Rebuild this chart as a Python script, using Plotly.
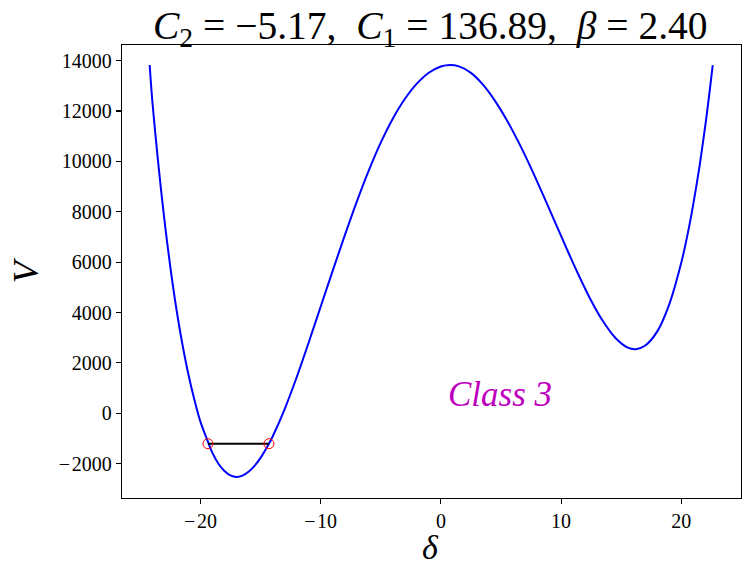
import plotly.graph_objects as go

# Potential curve V(delta)
delta = [-24.22, -24.0, -23.5, -23.0, -22.5, -22.0, -21.5, -21.0, -20.5, -20.0,
         -19.3, -19.0, -18.5, -18.0, -17.5, -17.0, -16.5, -16.0, -15.5, -15.0,
         -14.3, -14.0, -13.0, -12.0, -11.0, -10.0, -9.0, -8.0, -7.0, -6.0,
         -5.0, -4.0, -3.0, -2.0, -1.0, 0.0, 0.77, 1.5, 2.5, 3.5,
         4.5, 5.5, 6.5, 7.5, 8.5, 9.5, 10.5, 11.5, 12.5, 13.5,
         14.5, 15.5, 16.2, 17.0, 18.0, 19.0, 20.0, 20.5, 21.0, 21.5,
         22.0, 22.3, 22.61]
V = [13820, 12400, 9900, 7700, 5800, 4150, 2750, 1550, 540, -330,
     -1220, -1570, -2000, -2290, -2465, -2525, -2475, -2320, -2085, -1770,
     -1210, -930, 160, 1420, 2800, 4230, 5650, 7050, 8390, 9630,
     10740, 11690, 12470, 13080, 13515, 13762, 13821, 13765, 13510, 13040,
     12400, 11620, 10720, 9730, 8670, 7580, 6490, 5440, 4470, 3640,
     3000, 2620, 2545, 2690, 3250, 4330, 5990, 7060, 8320, 9770,
     11450, 12580, 13821]

# Energy level segment with turning points
turn_x = [-19.37, -14.30]
turn_E = [-1206, -1206]

x_ticks = [-20, -10, 0, 10, 20]
y_ticks = [-2000, 0, 2000, 4000, 6000, 8000, 10000, 12000, 14000]

def lab(v):
    return ("\u2212\u200a" + str(abs(v))) if v < 0 else str(v)

FONT = "Liberation Serif"

fig = go.Figure()
fig.add_trace(go.Scatter(x=delta, y=V, mode="lines",
                         line=dict(color="#0000ff", width=2, shape="spline", smoothing=0.8),
                         showlegend=False, hoverinfo="skip"))
fig.add_trace(go.Scatter(x=turn_x, y=turn_E, mode="lines",
                         line=dict(color="black", width=2),
                         showlegend=False, hoverinfo="skip"))
fig.add_trace(go.Scatter(x=turn_x, y=turn_E, mode="markers",
                         marker=dict(symbol="circle-open", size=10, color="red",
                                     line=dict(color="red", width=1)),
                         showlegend=False, hoverinfo="skip"))

axis_common = dict(showline=True, mirror=True, linecolor="black", linewidth=1.3,
                   ticks="outside", ticklen=5, tickwidth=1.2, tickcolor="black",
                   showgrid=False, zeroline=False, automargin=False,
                   tickfont=dict(size=20, family=FONT, color="black"))

fig.update_layout(
    width=751, height=577,
    margin=dict(l=122, r=10, t=45, b=79, autoexpand=False),
    paper_bgcolor="white", plot_bgcolor="white",
    font=dict(family=FONT, color="black", size=19),
    xaxis=dict(range=[-26.52, 24.96], tickvals=x_ticks, ticktext=[lab(v) for v in x_ticks],
               **axis_common),
    yaxis=dict(range=[-3361, 14615], tickvals=y_ticks, ticktext=[lab(v) for v in y_ticks],
               **axis_common),
    annotations=[
        dict(text="<i>C</i><sub>2</sub>\u00a0=\u00a0\u22125.17,\u00a0\u00a0<i>C</i><sub>1</sub>\u00a0=\u00a0136.89,\u00a0\u00a0<i>\u03b2</i>\u00a0=\u00a02.40",
             xref="paper", yref="paper", x=(430 - 121.7) / 619.3, y=(498 - 28) / 453,
             xanchor="center", yanchor="middle",
             showarrow=False, font=dict(size=39.5, family=FONT)),
        dict(text="<i>\u03b4</i>", xref="paper", yref="paper", x=(430 - 121.7) / 619.3,
             y=(498 - 547) / 453, xanchor="center", yanchor="middle",
             showarrow=False, font=dict(size=34, family=FONT)),
        dict(text="<i>V</i>", xref="paper", yref="paper", x=(26 - 121.7) / 619.3,
             y=(498 - 270) / 453, xanchor="center", yanchor="middle", textangle=-90,
             showarrow=False, font=dict(size=36, family=FONT)),
        dict(text="<i>Class 3</i>", xref="x", yref="y", x=0.45, y=760,
             xanchor="left", yanchor="middle", showarrow=False,
             font=dict(size=35, family=FONT, color="#bf00bf")),
    ],
)

# remove the browser's default 8px page margin so the figure sits at (0, 0)
fig.write_html("out.html", config={"displayModeBar": False, "staticPlot": True},
               post_script="document.body.style.margin='0px';")
